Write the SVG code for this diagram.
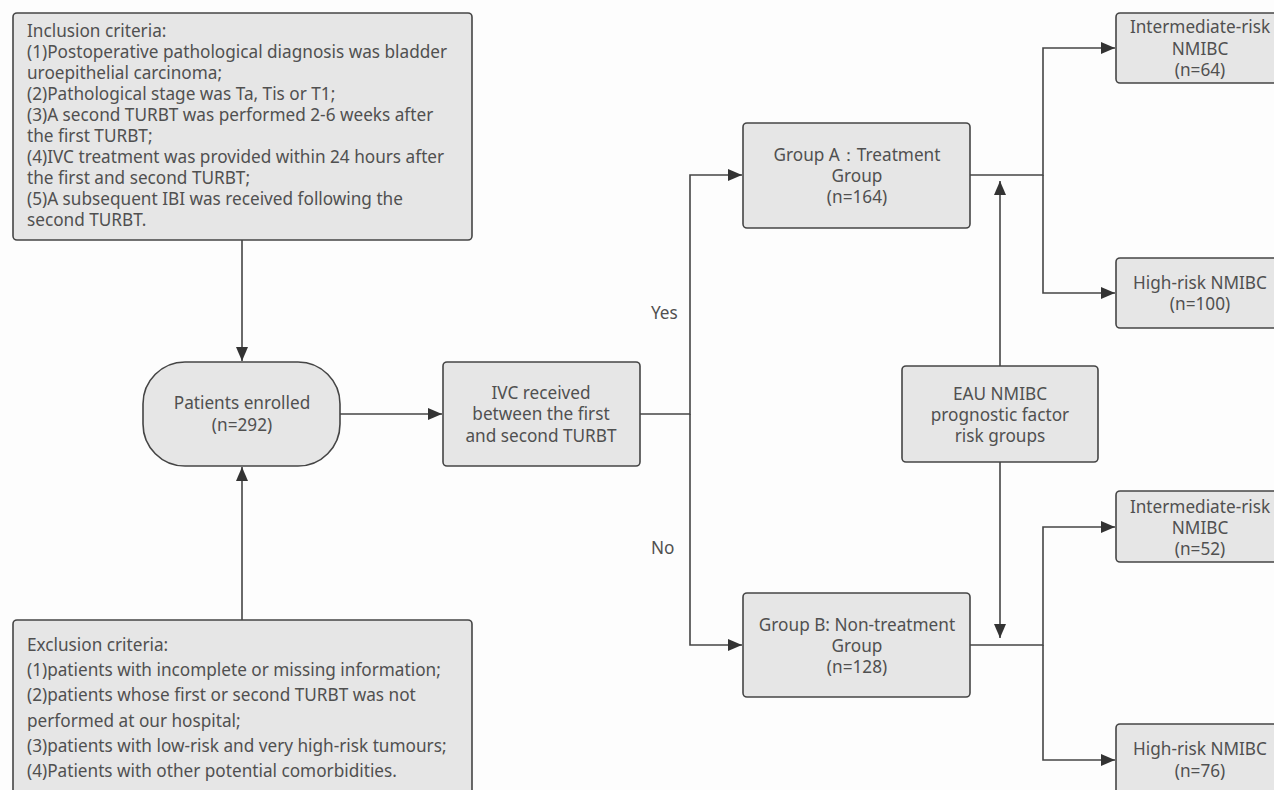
<svg xmlns="http://www.w3.org/2000/svg" width="1274" height="790" viewBox="0 0 1274 790">
<defs>
<style>
.box{fill:#e6e6e6;stroke:#454545;stroke-width:1.6}
.t{font-family:"Noto Sans","Open Sans","Liberation Sans",sans-serif;font-size:17.2px;fill:#505050}
.c{text-anchor:middle}
.ln{fill:none;stroke:#454545;stroke-width:1.6}
</style>
<marker id="arr" viewBox="0 0 14 12" refX="14" refY="6" markerWidth="14" markerHeight="12" orient="auto" markerUnits="userSpaceOnUse"><path d="M0,0 L14,6 L0,12 z" fill="#333"/></marker>
</defs>
<rect width="1274" height="790" fill="#fdfdfd"/>
<g id="connectors">
<path class="ln" d="M242,240 V361" marker-end="url(#arr)"/>
<path class="ln" d="M242,620 V467" marker-end="url(#arr)"/>
<path class="ln" d="M340,414 H442" marker-end="url(#arr)"/>
<path class="ln" d="M640,414 H690 V175 H742" marker-end="url(#arr)"/>
<path class="ln" d="M690,414 V645 H742" marker-end="url(#arr)"/>
<path class="ln" d="M970,175 H1043 V48 H1115" marker-end="url(#arr)"/>
<path class="ln" d="M1043,175 V293 H1115" marker-end="url(#arr)"/>
<path class="ln" d="M970,645 H1043 V527 H1115" marker-end="url(#arr)"/>
<path class="ln" d="M1043,645 V760 H1115" marker-end="url(#arr)"/>
<path class="ln" d="M1000,366 V181" marker-end="url(#arr)"/>
<path class="ln" d="M1000,462 V638" marker-end="url(#arr)"/>
<text class="t" x="651" y="319">Yes</text>
<text class="t" x="651" y="554">No</text>
</g>
<g id="inclusion">
<rect class="box" x="13" y="13" width="459" height="227" rx="4"/>
<text class="t" x="27" y="37">Inclusion criteria:</text>
<text class="t" x="27" y="58">(1)Postoperative pathological diagnosis was bladder</text>
<text class="t" x="27" y="79">uroepithelial carcinoma;</text>
<text class="t" x="27" y="100">(2)Pathological stage was Ta, Tis or T1;</text>
<text class="t" x="27" y="121">(3)A second TURBT was performed 2-6 weeks after</text>
<text class="t" x="27" y="142">the first TURBT;</text>
<text class="t" x="27" y="163">(4)IVC treatment was provided within 24 hours after</text>
<text class="t" x="27" y="184">the first and second TURBT;</text>
<text class="t" x="27" y="205">(5)A subsequent IBI was received following the</text>
<text class="t" x="27" y="226">second TURBT.</text>
</g>
<g id="exclusion">
<rect class="box" x="13" y="620" width="459" height="190" rx="4"/>
<text class="t" x="27" y="651">Exclusion criteria:</text>
<text class="t" x="27" y="676">(1)patients with incomplete or missing information;</text>
<text class="t" x="27" y="701">(2)patients whose first or second TURBT was not</text>
<text class="t" x="27" y="727">performed at our hospital;</text>
<text class="t" x="27" y="752">(3)patients with low-risk and very high-risk tumours;</text>
<text class="t" x="27" y="777">(4)Patients with other potential comorbidities.</text>
</g>
<g id="enrolled">
<rect class="box" x="143" y="362" width="197" height="104" rx="42"/>
<text class="t c" x="242" y="409">Patients enrolled</text>
<text class="t c" x="242" y="431">(n=292)</text>
</g>
<g id="ivc">
<rect class="box" x="443" y="362" width="197" height="104" rx="4"/>
<text class="t c" x="541" y="399">IVC received</text>
<text class="t c" x="541" y="420">between the first</text>
<text class="t c" x="541" y="442">and second TURBT</text>
</g>
<g id="groupA">
<rect class="box" x="743" y="123" width="227" height="105" rx="4"/>
<text class="t c" x="857" y="161">Group A：Treatment</text>
<text class="t c" x="857" y="182">Group</text>
<text class="t c" x="857" y="203">(n=164)</text>
</g>
<g id="groupB">
<rect class="box" x="743" y="593" width="227" height="104" rx="4"/>
<text class="t c" x="857" y="631">Group B: Non-treatment</text>
<text class="t c" x="857" y="652">Group</text>
<text class="t c" x="857" y="673">(n=128)</text>
</g>
<g id="eau">
<rect class="box" x="902" y="366" width="196" height="96" rx="4"/>
<text class="t c" x="1000" y="400">EAU NMIBC</text>
<text class="t c" x="1000" y="421">prognostic factor</text>
<text class="t c" x="1000" y="442">risk groups</text>
</g>
<g id="intA">
<rect class="box" x="1116" y="13" width="180" height="70" rx="4"/>
<text class="t c" x="1200" y="33">Intermediate-risk</text>
<text class="t c" x="1200" y="55">NMIBC</text>
<text class="t c" x="1200" y="76">(n=64)</text>
</g>
<g id="highA">
<rect class="box" x="1116" y="258" width="180" height="70" rx="4"/>
<text class="t c" x="1200" y="289">High-risk NMIBC</text>
<text class="t c" x="1200" y="310">(n=100)</text>
</g>
<g id="intB">
<rect class="box" x="1116" y="491" width="180" height="71" rx="4"/>
<text class="t c" x="1200" y="513">Intermediate-risk</text>
<text class="t c" x="1200" y="534">NMIBC</text>
<text class="t c" x="1200" y="555">(n=52)</text>
</g>
<g id="highB">
<rect class="box" x="1116" y="724" width="180" height="90" rx="4"/>
<text class="t c" x="1200" y="755">High-risk NMIBC</text>
<text class="t c" x="1200" y="777">(n=76)</text>
</g>
</svg>
